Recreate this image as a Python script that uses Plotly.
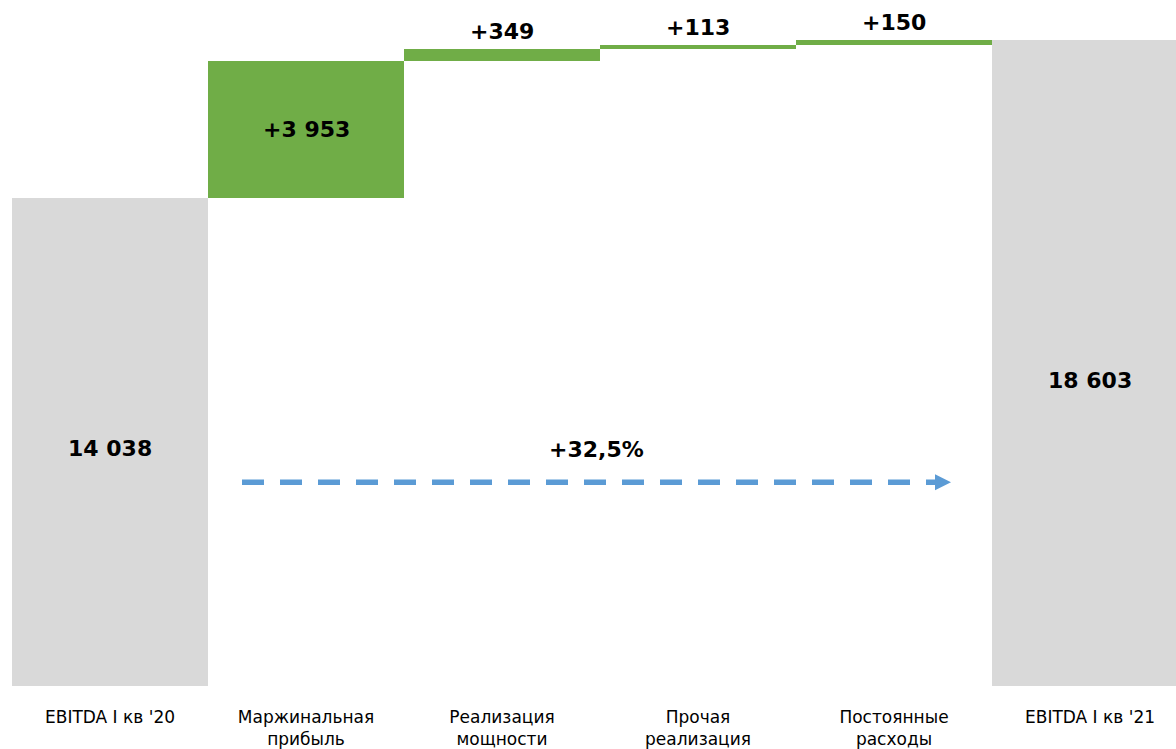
import plotly.graph_objects as go

categories = ["EBITDA I кв '20", "Маржинальная<br>прибыль", "Реализация<br>мощности",
              "Прочая<br>реализация", "Постоянные<br>расходы", "EBITDA I кв '21"]
measures = ["total", "relative", "relative", "relative", "relative", "total"]
values = [14038, 3953, 349, 113, 150, 18603]
value_labels = ["14 038", "+3 953", "+349", "+113", "+150", "18 603"]
growth_label = "+32,5%"

GRAY = "#D9D9D9"
GREEN = "#70AD47"
BLUE = "#5B9BD5"

# compute bases for the waterfall
bases, heights, colors = [], [], []
running = 0
for m, v in zip(measures, values):
    if m == "total":
        bases.append(0)
        heights.append(v)
        colors.append(GRAY)
        running = v
    else:
        bases.append(running)
        heights.append(v)
        colors.append(GREEN)
        running += v

xs = list(range(len(categories)))

W, H = 1176, 749
ZERO_PAGE = 686.5
B_MARGIN = H - ZERO_PAGE
px_per_unit = (686.5 - 198.3) / values[0]
plot_h = H - B_MARGIN
ymax = plot_h / px_per_unit
px_per_cat = W / len(categories)
x0 = -0.5 - 12 / px_per_cat
xrange = [x0, x0 + W / px_per_cat]


def px_to_x(px):
    return x0 + px / px_per_cat


def py_to_y(py):
    return (ZERO_PAGE - py) / px_per_unit


fig = go.Figure()
fig.add_trace(go.Bar(
    x=xs, y=heights, base=bases, width=1.0,
    marker=dict(color=colors, line=dict(width=0)),
    hoverinfo="skip", showlegend=False,
))

label_font = dict(family="DejaVu Sans", size=22, color="#000000")
# value labels
yshifts = {0: -6, 5: -18}
for i, (b, h, lab, m) in enumerate(zip(bases, heights, value_labels, measures)):
    if i in (0, 5) or h > 1000:
        fig.add_annotation(x=xs[i], y=b + h / 2, text=f"<b>{lab}</b>", showarrow=False,
                           font=label_font, yshift=yshifts.get(i, 0), xanchor="center", yanchor="middle")
    else:
        fig.add_annotation(x=xs[i], y=b + h, text=f"<b>{lab}</b>", showarrow=False,
                           font=label_font, yshift=17, xanchor="center", yanchor="middle")

# growth arrow
arrow_y = py_to_y(482.5)
ax_start = px_to_x(242)
ax_end = px_to_x(935)
fig.add_shape(type="line", x0=ax_start, x1=ax_end, y0=arrow_y, y1=arrow_y,
              line=dict(color=BLUE, width=5.5, dash="22px,16px"))
fig.add_shape(type="path", xsizemode="pixel", ysizemode="pixel",
              xanchor=ax_end, yanchor=arrow_y,
              path="M 0 -8 L 16 0 L 0 8 Z", fillcolor=BLUE, line=dict(width=0))
fig.add_annotation(x=(ax_start + px_to_x(951)) / 2, y=arrow_y, text=f"<b>{growth_label}</b>",
                   showarrow=False, font=label_font, yshift=33)

fig.update_layout(
    width=W, height=H,
    margin=dict(l=0, r=0, t=0, b=B_MARGIN),
    plot_bgcolor="white", paper_bgcolor="white",
    bargap=0,
    xaxis=dict(range=xrange, tickmode="array", tickvals=xs, ticktext=categories,
               showgrid=False, zeroline=False, showline=False, ticks="",
               ticklabelstandoff=19,
               tickfont=dict(family="DejaVu Sans", size=17, color="#000000")),
    yaxis=dict(range=[0, ymax], visible=False, showgrid=False, zeroline=False),
)

fig.write_html("out.html", config={"displayModeBar": False, "staticPlot": True},
               post_script="document.body.style.margin='0';document.body.style.overflow='hidden';")
